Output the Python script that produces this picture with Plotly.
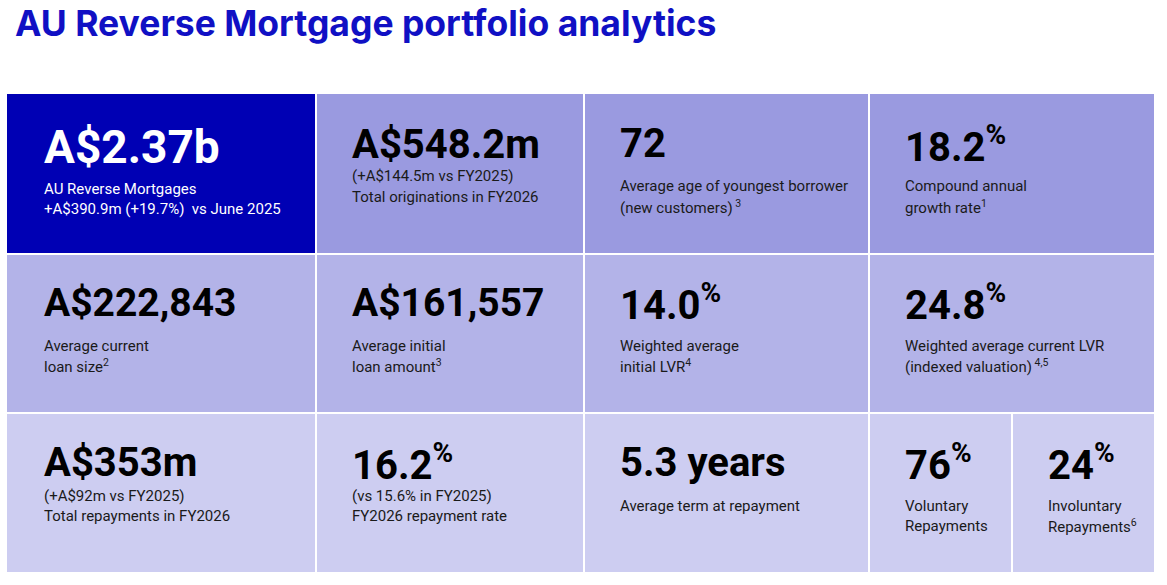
import plotly.graph_objects as go

# ---------------- data ----------------
title_text = "AU Reverse Mortgage portfolio analytics"

tile_values = [
    "A$2.37b", "A$548.2m", "72", "18.2<sup>%</sup>",
    "A$222,843", "A$161,557", "14.0<sup>%</sup>", "24.8<sup>%</sup>",
    "A$353m", "16.2<sup>%</sup>", "5.3 years", "76<sup>%</sup>", "24<sup>%</sup>",
]
tile_notes = [
    ["AU Reverse Mortgages", "+A$390.9m (+19.7%)  vs June 2025"],
    ["(+A$144.5m vs FY2025)", "Total originations in FY2026"],
    ["Average age of youngest borrower", "(new customers)<sup> 3</sup>"],
    ["Compound annual", "growth rate<sup>1</sup>"],
    ["Average current", "loan size<sup>2</sup>"],
    ["Average initial", "loan amount<sup>3</sup>"],
    ["Weighted average", "initial LVR<sup>4</sup>"],
    ["Weighted average current LVR", "(indexed valuation)<sup> 4,5</sup>"],
    ["(+A$92m vs FY2025)", "Total repayments in FY2026"],
    ["(vs 15.6% in FY2025)", "FY2026 repayment rate"],
    ["Average term at repayment"],
    ["Voluntary", "Repayments"],
    ["Involuntary", "Repayments<sup>6</sup>"],
]

# ---------------- layout / style ----------------
W, H = 1167, 585
# tile boxes: (x0, x1, y0, y1)
tile_boxes = [
    (7, 315, 94, 253), (317, 583, 94, 253), (585, 868, 94, 253), (870, 1154, 94, 253),
    (7, 315, 255, 412), (317, 583, 255, 412), (585, 868, 255, 412), (870, 1154, 255, 412),
    (7, 315, 414, 572), (317, 583, 414, 572), (585, 868, 414, 572), (870, 1011, 414, 572), (1013, 1154, 414, 572),
]
text_x = [42, 350, 618, 903, 42, 350, 618, 903, 42, 350, 618, 903, 1046]
value_y = [146.5, 144, 143, 144, 302.5, 302.5, 302.5, 302.5, 462, 462, 462, 462, 462]
note_y = [
    [189, 209], [176, 197], [186, 207], [186, 207],
    [346, 366], [346, 366], [346, 366], [346, 366],
    [496, 516], [496, 516], [506], [506, 526], [506, 526],
]
value_size = [46, 40, 40, 40, 39, 39, 40, 40, 40, 40, 40, 40, 40]
ROW1, ROW2, ROW3 = "#9a9ae0", "#b3b3e8", "#cdcdf1"
tile_fill = ["#0000b4", ROW1, ROW1, ROW1, ROW2, ROW2, ROW2, ROW2,
             ROW3, ROW3, ROW3, ROW3, ROW3]
text_col = ["#ffffff"] + ["#000000"] * 12
note_col = ["#ffffff"] + ["#1a1a1a"] * 12

NUM_FONT = "Roboto"
TXT_FONT = "Roboto"

fig = go.Figure()
fig.add_trace(go.Scatter(x=[0, W], y=[0, H], mode="markers",
                         marker=dict(opacity=0), hoverinfo="skip", showlegend=False))

shapes = []
annotations = []
for i, (x0, x1, y0, y1) in enumerate(tile_boxes):
    shapes.append(dict(type="rect", xref="x", yref="y", x0=x0, x1=x1, y0=y0, y1=y1,
                       fillcolor=tile_fill[i], line=dict(width=0), layer="below"))
    annotations.append(dict(xref="x", yref="y", x=text_x[i], y=value_y[i],
                            text="<b>" + tile_values[i] + "</b>", showarrow=False,
                            xanchor="left", yanchor="middle",
                            font=dict(family=NUM_FONT, size=value_size[i], color=text_col[i])))
    for line, ly in zip(tile_notes[i], note_y[i]):
        annotations.append(dict(xref="x", yref="y", x=text_x[i], y=ly, text=line,
                                showarrow=False, xanchor="left", yanchor="middle",
                                font=dict(family=TXT_FONT, size=15, color=note_col[i])))

annotations.append(dict(xref="x", yref="y", x=13, y=23, text="<b>" + title_text + "</b>",
                        showarrow=False, xanchor="left", yanchor="middle",
                        font=dict(family="Inter", size=35.5, color="#1010c4")))

fig.update_layout(
    width=W, height=H,
    margin=dict(l=0, r=0, t=0, b=0),
    paper_bgcolor="#ffffff", plot_bgcolor="#ffffff",
    xaxis=dict(range=[0, W], visible=False, fixedrange=True),
    yaxis=dict(range=[H, 0], visible=False, fixedrange=True),
    shapes=shapes, annotations=annotations, showlegend=False,
)

fig.write_html("out.html", config={"displayModeBar": False},
               post_script="document.body.style.margin='0';document.body.style.overflow='hidden';")
